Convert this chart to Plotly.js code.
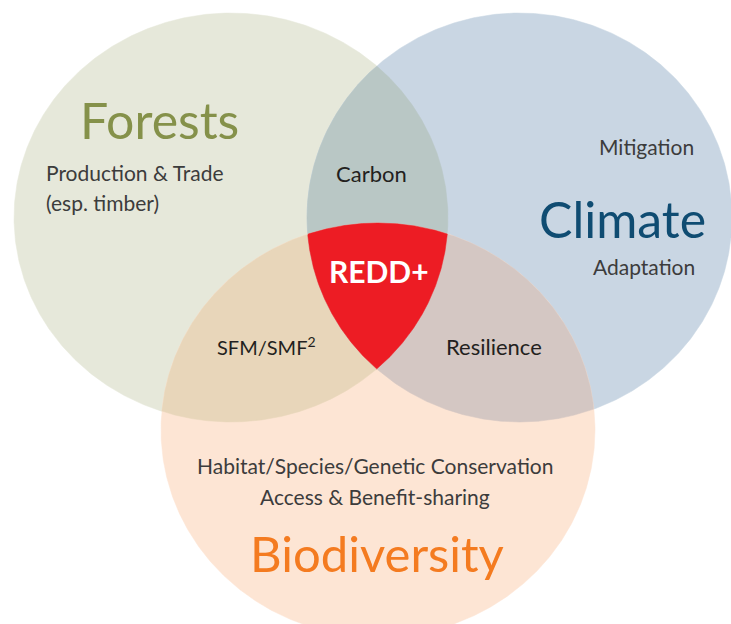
<!DOCTYPE html>
<html>
<head>
<meta charset="utf-8">
<script src="https://cdn.plot.ly/plotly-3.0.1.min.js"></script>
<style>html,body{margin:0;padding:0;background:#fff;}#chart{width:731px;height:624px;}</style>
</head>
<body>
<div id="chart"></div>
<script>
// ---- Data ----
const sets = ['Forests', 'Climate', 'Biodiversity'];
const setDetails = [
  ['Production & Trade', '(esp. timber)'],
  ['Mitigation', 'Adaptation'],
  ['Habitat/Species/Genetic Conservation', 'Access & Benefit-sharing']
];
const pairOverlaps = [['Forests', 'Climate'], ['Forests', 'Biodiversity'], ['Climate', 'Biodiversity']];
const pairLabels = ['Carbon', 'SFM/SMF<sup>2</sup>', 'Resilience'];
const centerLabel = 'REDD+';

// ---- Layout / geometry (pixel-like data units) ----
const geom = {
  Forests:      {cx: 231,   cy: 217.5, rx: 217,   ry: 204.5},
  Climate:      {cx: 519.5, cy: 217.5, rx: 212.5, ry: 204.5},
  Biodiversity: {cx: 378,   cy: 430,   rx: 217,   ry: 207}
};
const setColors = {Forests: '#e6e8da', Climate: '#c9d6e3', Biodiversity: '#fde5d4'};
const pairColors = ['#b9c7c5', '#e8d6ba', '#d4c7c3'];
const centerColor = '#ed1c24';

function inside(p, e) {
  return Math.pow((p[0] - e.cx) / e.rx, 2) + Math.pow((p[1] - e.cy) / e.ry, 2) <= 1 + 1e-9;
}
function boundary(e, n) {
  const pts = [];
  for (let i = 0; i < n; i++) {
    const t = 2 * Math.PI * i / n;
    pts.push([e.cx + e.rx * Math.cos(t), e.cy + e.ry * Math.sin(t)]);
  }
  return pts;
}
function region(names) {
  const es = names.map(n => geom[n]);
  let pts = [];
  es.forEach((e, i) => {
    boundary(e, 2880).forEach(p => {
      if (es.every((o, j) => j === i || inside(p, o))) pts.push(p);
    });
  });
  const mx = pts.reduce((s, p) => s + p[0], 0) / pts.length;
  const my = pts.reduce((s, p) => s + p[1], 0) / pts.length;
  pts.sort((a, b) => Math.atan2(a[1] - my, a[0] - mx) - Math.atan2(b[1] - my, b[0] - mx));
  pts.push(pts[0]);
  return pts;
}
function polyTrace(pts, color) {
  return {
    type: 'scatter', mode: 'lines', x: pts.map(p => p[0]), y: pts.map(p => p[1]),
    fill: 'toself', fillcolor: color, line: {width: 0.5, color: color},
    hoverinfo: 'skip', showlegend: false
  };
}

const traces = [];
sets.forEach(s => { const b = boundary(geom[s], 720); b.push(b[0]); traces.push(polyTrace(b, setColors[s])); });
pairOverlaps.forEach((pr, i) => traces.push(polyTrace(region(pr), pairColors[i])));
traces.push(polyTrace(region(sets), centerColor));

const FONT = 'Lato, "Open Sans", sans-serif';
const titleStyles = {
  Forests:      {x: 159, y: 120, color: '#85914a', size: 50},
  Climate:      {x: 622, y: 219, color: '#0f4c72', size: 50},
  Biodiversity: {x: 377, y: 553, color: '#f47b20', size: 49}
};
const detailPos = [
  [{x: 44, y: 172, anchor: 'left'}, {x: 44, y: 202, anchor: 'left'}],
  [{x: 646, y: 146, anchor: 'center'}, {x: 644, y: 266, anchor: 'center'}],
  [{x: 375, y: 465, anchor: 'center'}, {x: 375, y: 496, anchor: 'center'}]
];
const pairPos = [{x: 371, y: 173}, {x: 266, y: 346}, {x: 494, y: 346}];
const pairSizes = [22, 20, 22];

const annotations = [];
sets.forEach((s, i) => {
  const st = titleStyles[s];
  annotations.push({x: st.x, y: st.y, text: s, showarrow: false, xanchor: 'center', yanchor: 'middle',
    font: {family: FONT, size: st.size, color: st.color}});
  setDetails[i].forEach((t, k) => {
    const p = detailPos[i][k];
    annotations.push({x: p.x, y: p.y, text: t, showarrow: false, xanchor: p.anchor, yanchor: 'middle',
      font: {family: FONT, size: 21, color: '#3c3c3c'}});
  });
});
pairLabels.forEach((t, i) => {
  annotations.push({x: pairPos[i].x, y: pairPos[i].y, text: t, showarrow: false, xanchor: 'center', yanchor: 'middle',
    font: {family: FONT, size: pairSizes[i], color: '#231f20'}});
});
annotations.push({x: 379, y: 271, text: '<b>' + centerLabel + '</b>', showarrow: false, xanchor: 'center', yanchor: 'middle',
  font: {family: FONT, size: 30, color: '#ffffff'}});

const layout = {
  width: 731, height: 624,
  margin: {l: 0, r: 0, t: 0, b: 0},
  paper_bgcolor: '#ffffff', plot_bgcolor: '#ffffff',
  xaxis: {range: [0, 731], visible: false, fixedrange: true},
  yaxis: {range: [624, 0], visible: false, fixedrange: true},
  annotations: annotations,
  showlegend: false
};
Plotly.newPlot('chart', traces, layout, {staticPlot: true, displayModeBar: false});
</script>
</body>
</html>
